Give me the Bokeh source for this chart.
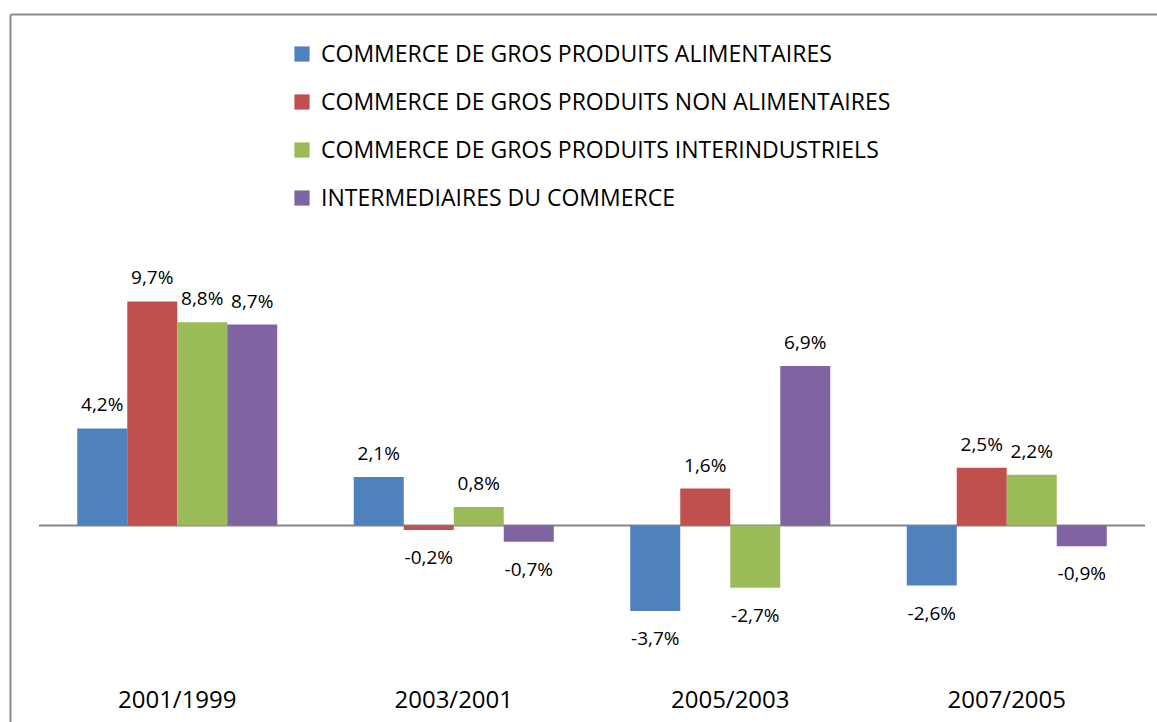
from bokeh.plotting import figure
from bokeh.models import ColumnDataSource, Range1d, Legend, LegendItem, LabelSet
from bokeh.embed import file_html
from bokeh.resources import INLINE
from bokeh.core.properties import value

categories = ["2001/1999", "2003/2001", "2005/2003", "2007/2005"]
series_names = [
    "COMMERCE DE GROS PRODUITS ALIMENTAIRES",
    "COMMERCE DE GROS PRODUITS NON ALIMENTAIRES",
    "COMMERCE DE GROS PRODUITS INTERINDUSTRIELS",
    "INTERMEDIAIRES DU COMMERCE",
]
alimentaires = [4.2, 2.1, -3.7, -2.6]
non_alimentaires = [9.7, -0.2, 1.6, 2.5]
interindustriels = [8.8, 0.8, -2.7, 2.2]
intermediaires = [8.7, -0.7, 6.9, -0.9]
colors = ["#4F81BD", "#C0504D", "#9BBB59", "#8064A2"]

series = [alimentaires, non_alimentaires, interindustriels, intermediaires]

W, H = 1157, 722
# pixel geometry (figure-local)
x0_px = 38.5      # x position of category axis start
cat_px = 276.5    # width of one category
y0_px = 525.0     # y position of zero line from top
pct_px = 23.1     # pixels per percent

x_start = -x0_px / cat_px
x_end = (W - x0_px) / cat_px
y_end = y0_px / pct_px
y_start = -(H - y0_px) / pct_px

p = figure(width=W, height=H, output_backend="svg", toolbar_location=None,
           x_range=Range1d(x_start, x_end), y_range=Range1d(y_start, y_end),
           min_border=0, min_border_left=0, min_border_right=0,
           min_border_top=0, min_border_bottom=0)
p.xaxis.visible = False
p.yaxis.visible = False
p.grid.visible = False
p.outline_line_color = None
p.background_fill_color = "white"
p.border_fill_color = "white"

bar_w = 50.0 / cat_px
n = len(series)
font = "Open Sans"

# zero line
p.segment(x0=[0], y0=[0], x1=[len(categories)], y1=[0], line_color="#868686", line_width=2)

legend_items = []
for i, (name, vals, col) in enumerate(zip(series_names, series, colors)):
    xs = [c + 0.5 + (i - (n - 1) / 2) * bar_w for c in range(len(categories))]
    labels = [("%.1f%%" % v).replace(".", ",") for v in vals]
    offs = [24 if v >= 0 else -27 for v in vals]
    src = ColumnDataSource(dict(x=xs, top=vals, label=labels, off=offs))
    r = p.vbar(x="x", top="top", bottom=0, width=bar_w, source=src,
               fill_color=col, line_color=None)
    legend_items.append(LegendItem(label=name, renderers=[r]))
    p.add_layout(LabelSet(x="x", y="top", text="label", y_offset="off", source=src,
                          text_align="center", text_baseline="middle",
                          text_font=value(font), text_font_size="19px", text_color="black"))

# category labels
cat_src = ColumnDataSource(dict(x=[c + 0.5 for c in range(len(categories))],
                                y=[-(698 - y0_px) / pct_px] * len(categories),
                                t=categories))
p.text(x="x", y="y", text="t", source=cat_src, text_align="center", text_baseline="middle",
       text_font=value(font), text_font_size="24px", text_color="black")

# chart border (left and top edges)
bx = (10 - x0_px) / cat_px
by = (y0_px - 14) / pct_px
p.segment(x0=[bx, bx], y0=[by, by], x1=[bx, x_end], y1=[y_start, by],
          line_color="#8a8a8a", line_width=2)

legend = Legend(items=legend_items, location=(292, 509),
                glyph_width=19, glyph_height=19, label_standoff=10,
                spacing=16, label_height=25, padding=0, margin=0,
                border_line_color=None, background_fill_alpha=0,
                label_text_font=font, label_text_font_size="23px", label_text_color="black")
p.add_layout(legend)

open("out.html", "w").write(file_html(p, INLINE))
